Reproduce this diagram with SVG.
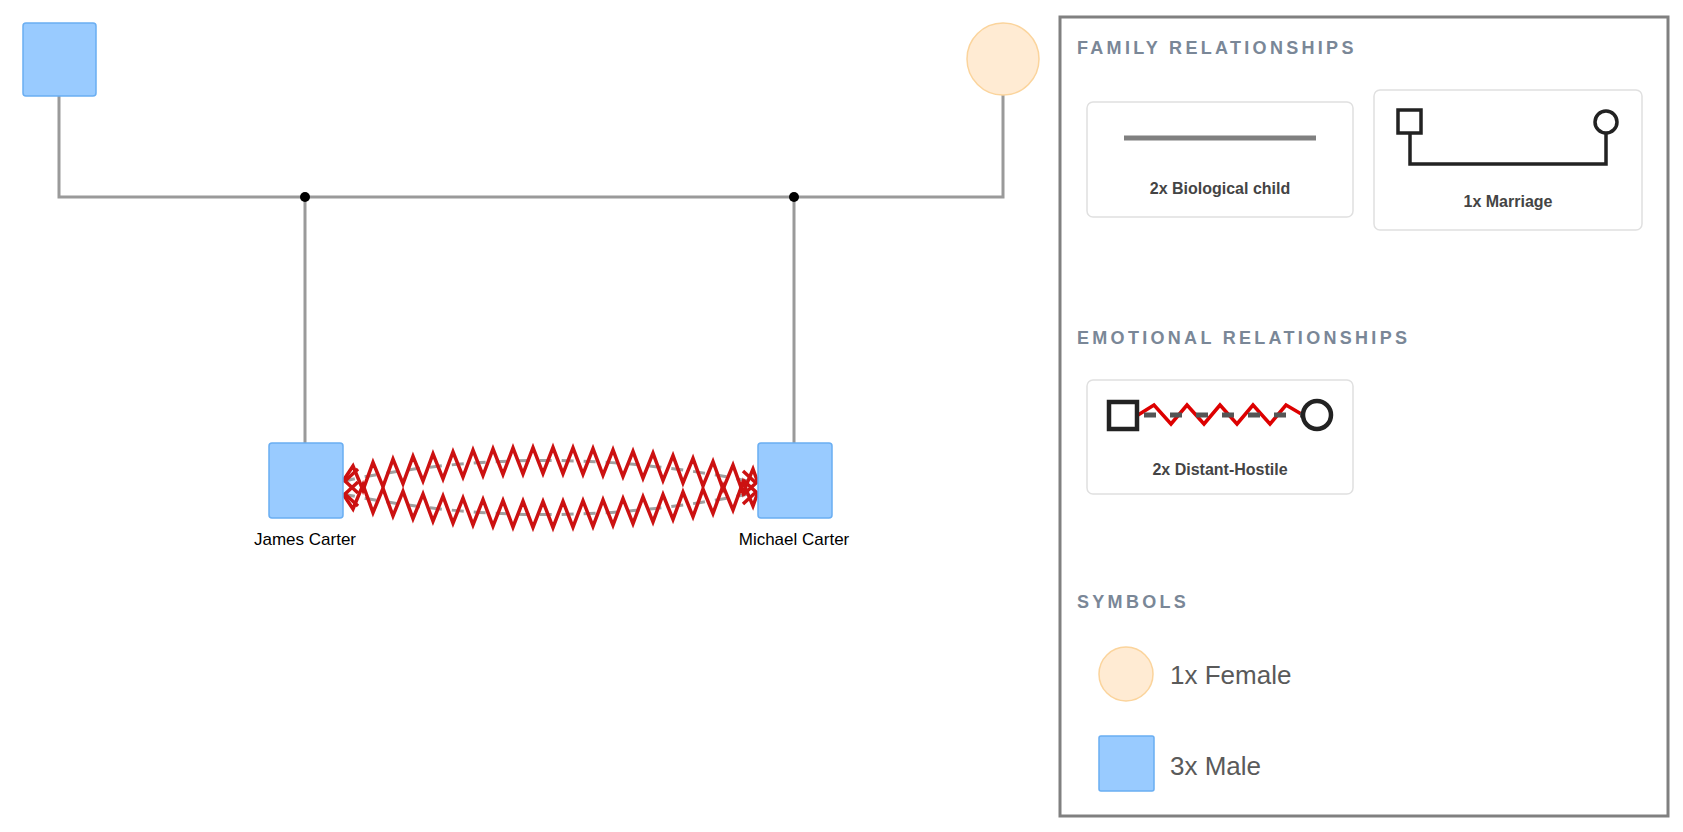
<svg xmlns="http://www.w3.org/2000/svg" width="1683" height="832" viewBox="0 0 1683 832">
<style>
.male{fill:#99cbff;stroke:#6aaef2;stroke-width:1.5}
.female{fill:#ffebd3;stroke:#fbd49c;stroke-width:1.5}
.rel{fill:none;stroke:#9a9a9a;stroke-width:3}
.zig{fill:none;stroke:#cc1111;stroke-width:3.5;stroke-linejoin:miter}
.dash{fill:none;stroke:#a0a0a0;stroke-width:3;stroke-dasharray:12 10}
.name{font-family:"Liberation Sans",Arial,sans-serif;font-size:17px;fill:#000;text-anchor:middle}
.head{font-family:"Liberation Sans",Arial,sans-serif;font-size:18px;font-weight:bold;fill:#7a8797;letter-spacing:3.3px}
.card{fill:#fff;stroke:#e0e0e0;stroke-width:1.5}
.lab{font-family:"Liberation Sans",Arial,sans-serif;font-size:16px;font-weight:bold;fill:#444;text-anchor:middle}
.sym{font-family:"Liberation Sans",Arial,sans-serif;font-size:26px;fill:#5a5a5a}
</style>
<rect width="1683" height="832" fill="#fff"/>
<g id="connectors">
<path class="rel" d="M59,96 V197 H1003 V95"/>
<path class="rel" d="M305,197 V443 M794,197 V443"/>
<circle cx="305" cy="197" r="5" fill="#000"/>
<circle cx="794" cy="197" r="5" fill="#000"/>
<path class="dash" d="M343,481 Q550,439 758,483"/>
<path class="dash" d="M343,494 Q550,536 758,492"/>
<polyline class="zig" points="343,481 353,466 363,490.2 373,462.4 383,486.7 393,459.1 403,483.7 413,456.3 423,481 433,453.8 443,478.8 453,451.8 463,476.9 473,450.1 483,475.5 493,448.9 503,474.4 513,448 523,473.8 533,447.6 543,473.5 553,447.5 563,473.6 573,447.9 583,474.2 593,448.6 603,475.1 613,449.8 623,476.5 633,451.3 643,478.2 653,453.2 663,480.4 673,455.6 683,482.9 693,458.3 703,485.9 713,461.5 723,489.2 733,465 743,492.9 753,469 758,483"/>
<polyline class="zig" points="343,494 353,509 363,484.8 373,512.6 383,488.3 393,515.9 403,491.3 413,518.7 423,494 433,521.2 443,496.2 453,523.2 463,498.1 473,524.9 483,499.5 493,526.1 503,500.6 513,527 523,501.2 533,527.4 543,501.5 553,527.5 563,501.4 573,527.1 583,500.8 593,526.4 603,499.9 613,525.2 623,498.5 633,523.7 643,496.8 653,521.8 663,494.6 673,519.4 683,492.1 693,516.7 703,489.1 713,513.5 723,485.8 733,510 743,482.1 753,506 758,492"/>
<path class="zig" d="M358,469 L345,481 L358,493 M358,482 L345,494 L358,506 M743,471 L756,483 L743,495 M743,480 L756,492 L743,504"/>
</g>
<g id="father"><rect class="male" x="23" y="23" width="73" height="73" rx="3"/></g>
<g id="mother"><circle class="female" cx="1003" cy="59" r="36"/></g>
<g id="james"><rect class="male" x="269" y="443" width="74" height="75" rx="3"/><text class="name" x="305" y="545">James Carter</text></g>
<g id="michael"><rect class="male" x="758" y="443" width="74" height="75" rx="3"/><text class="name" x="794" y="545">Michael Carter</text></g>
<g id="legend" transform="translate(-6,0)">
<rect x="1066" y="17" width="608" height="799" fill="#fff" stroke="#808080" stroke-width="3"/>
<text class="head" x="1083" y="54">FAMILY RELATIONSHIPS</text>
<rect class="card" x="1093" y="102" width="266" height="115" rx="6"/>
<line x1="1130" y1="138" x2="1322" y2="138" stroke="#808080" stroke-width="5"/>
<text class="lab" x="1226" y="194">2x Biological child</text>
<rect class="card" x="1380" y="90" width="268" height="140" rx="6"/>
<path d="M1416,133 V164 H1612 V133" fill="none" stroke="#222" stroke-width="3.5"/>
<rect x="1404" y="110" width="23" height="23" fill="#fff" stroke="#222" stroke-width="3.5"/>
<circle cx="1612" cy="122" r="11" fill="#fff" stroke="#222" stroke-width="3.5"/>
<text class="lab" x="1514" y="207">1x Marriage</text>
<text class="head" x="1083" y="344">EMOTIONAL RELATIONSHIPS</text>
<rect class="card" x="1093" y="380" width="266" height="114" rx="6"/>
<polyline points="1144,415 1160,405 1177,424 1193,405 1210,424 1226,405 1243,424 1259,405 1276,424 1292,405 1309,415" fill="none" stroke="#dd0000" stroke-width="3.5"/>
<line x1="1150" y1="415" x2="1309" y2="415" stroke="#555" stroke-width="5" stroke-dasharray="12 14"/>
<rect x="1115" y="402" width="28" height="27" fill="#fff" stroke="#222" stroke-width="4.5"/>
<circle cx="1323" cy="415" r="14" fill="#fff" stroke="#222" stroke-width="4.5"/>
<text class="lab" x="1226" y="475">2x Distant-Hostile</text>
<text class="head" x="1083" y="608">SYMBOLS</text>
<circle class="female" cx="1132" cy="674" r="27"/>
<text class="sym" x="1176" y="684">1x Female</text>
<rect class="male" x="1105" y="736" width="55" height="55" rx="2"/>
<text class="sym" x="1176" y="775">3x Male</text>
</g>
</svg>
